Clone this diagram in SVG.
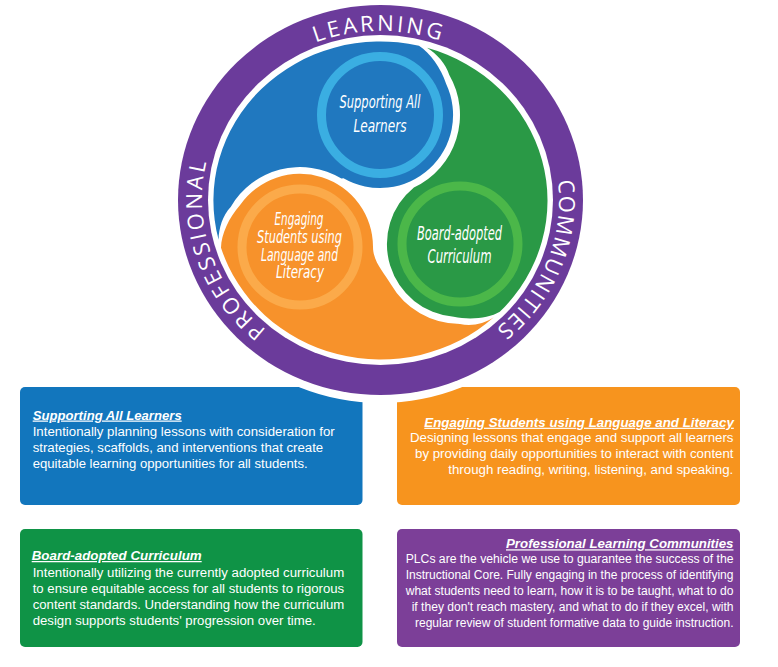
<svg xmlns="http://www.w3.org/2000/svg" xmlns:xlink="http://www.w3.org/1999/xlink" width="778" height="667" viewBox="0 0 778 667">
<style>
.bt{font-family:"Liberation Sans",Arial,sans-serif;font-size:12.5px;fill:#fff}
.tt{font-weight:bold;font-style:italic;text-decoration:underline}
.ring{font-family:"Open Sans","DejaVu Sans",sans-serif;font-size:22px;font-weight:500;fill:#fff}
.head{font-family:"DejaVu Sans Condensed","Liberation Sans Narrow","DejaVu Sans",sans-serif;font-style:italic;fill:#fff;text-anchor:middle}
.hring{fill:none;stroke-width:9}
</style>
<defs>
<path id="ringPath" d="M 380.5 369 A 178.5 169 0 1 1 380.5 31 A 178.5 169 0 1 1 380.5 369"/>
</defs>
<rect width="778" height="667" fill="#fff"/>
<g id="box-supporting">
<rect x="20" y="387" width="342.5" height="118" rx="5" fill="#1276bd"/>
<text class="bt tt" x="32.7" y="419.5" textLength="149" lengthAdjust="spacingAndGlyphs">Supporting All Learners</text>
<text class="bt" x="32.7" y="435.7" textLength="302" lengthAdjust="spacingAndGlyphs">Intentionally planning lessons with consideration for</text>
<text class="bt" x="32.7" y="451.7" textLength="290.5" lengthAdjust="spacingAndGlyphs">strategies, scaffolds, and interventions that create</text>
<text class="bt" x="32.7" y="467.7" textLength="275" lengthAdjust="spacingAndGlyphs">equitable learning opportunities for all students.</text>
</g>
<g id="box-engaging">
<rect x="397" y="387" width="343" height="118" rx="5" fill="#f7941e"/>
<text class="bt tt" x="424.3" y="426.7" textLength="309.5" lengthAdjust="spacingAndGlyphs">Engaging Students using Language and Literacy</text>
<text class="bt" x="410" y="442.3" textLength="323.5" lengthAdjust="spacingAndGlyphs">Designing lessons that engage and support all learners</text>
<text class="bt" x="415" y="458.3" textLength="318.5" lengthAdjust="spacingAndGlyphs">by providing daily opportunities to interact with content</text>
<text class="bt" x="448.3" y="474.3" textLength="285" lengthAdjust="spacingAndGlyphs">through reading, writing, listening, and speaking.</text>
</g>
<g id="box-curriculum">
<rect x="20" y="529" width="342.5" height="118" rx="5" fill="#0f9346"/>
<text class="bt tt" x="31.7" y="560" textLength="170" lengthAdjust="spacingAndGlyphs">Board-adopted Curriculum</text>
<text class="bt" x="32.7" y="576.7" textLength="311.5" lengthAdjust="spacingAndGlyphs">Intentionally utilizing the currently adopted curriculum</text>
<text class="bt" x="32.7" y="592.7" textLength="311.5" lengthAdjust="spacingAndGlyphs">to ensure equitable access for all students to rigorous</text>
<text class="bt" x="32.7" y="608.7" textLength="311.5" lengthAdjust="spacingAndGlyphs">content standards. Understanding how the curriculum</text>
<text class="bt" x="32.7" y="624.7" textLength="283" lengthAdjust="spacingAndGlyphs">design supports students' progression over time.</text>
</g>
<g id="box-plc">
<rect x="397" y="529" width="343" height="118" rx="5" fill="#7c3f98"/>
<text class="bt tt" x="506" y="548.3" textLength="227.5" lengthAdjust="spacingAndGlyphs">Professional Learning Communities</text>
<text class="bt" x="405.7" y="563.3" textLength="327.8" lengthAdjust="spacingAndGlyphs">PLCs are the vehicle we use to guarantee the success of the</text>
<text class="bt" x="405.7" y="579.3" textLength="327.8" lengthAdjust="spacingAndGlyphs">Instructional Core. Fully engaging in the process of identifying</text>
<text class="bt" x="405.7" y="595.3" textLength="327.8" lengthAdjust="spacingAndGlyphs">what students need to learn, how it is to be taught, what to do</text>
<text class="bt" x="411.7" y="611.3" textLength="321.8" lengthAdjust="spacingAndGlyphs">if they don't reach mastery, and what to do if they excel, with</text>
<text class="bt" x="415" y="627.3" textLength="318.5" lengthAdjust="spacingAndGlyphs">regular review of student formative data to guide instruction.</text>
</g>
<g id="plc-ring">
<ellipse cx="380.5" cy="200" rx="210.5" ry="203" fill="#fff"/>
<ellipse cx="380.5" cy="200" rx="202.5" ry="195" fill="#6b3b9b"/>
<ellipse cx="380.5" cy="200" rx="172.5" ry="165" fill="#fff"/>
<text class="ring"><textPath xlink:href="#ringPath" href="#ringPath" startOffset="543" text-anchor="middle" textLength="127" lengthAdjust="spacing">LEARNING</textPath></text>
<text class="ring"><textPath xlink:href="#ringPath" href="#ringPath" startOffset="217" text-anchor="middle" textLength="188" lengthAdjust="spacing">PROFESSIONAL</textPath></text>
<text class="ring"><textPath xlink:href="#ringPath" href="#ringPath" startOffset="883" text-anchor="middle" textLength="168" lengthAdjust="spacing">COMMUNITIES</textPath></text>
</g>
<g id="supporting">
<path d="M 218.6 239.8 A 167 159 0 0 1 419 45.8 C 430 53 441 68 446.2 84.1 A 73 73 0 0 1 343.5 178.2 L 341.4 178.6 A 80 80 0 0 0 230.7 207 C 222.8 215.3 218.7 228.1 218.6 239.8 Z" fill="#2078bf"/>
<circle class="hring" cx="380" cy="115" r="58.5" stroke="#3aaee2"/>
<text class="head" x="380" y="108" font-size="18.5" textLength="81" lengthAdjust="spacingAndGlyphs">Supporting All</text>
<text class="head" x="380" y="131.5" font-size="18.5" textLength="53" lengthAdjust="spacingAndGlyphs">Learners</text>
</g>
<g id="curriculum">
<path d="M 427 47.8 A 167 159 0 0 1 499.8 311.8 C 488.7 318.3 470.2 320.3 453.7 316.8 A 73 73 0 0 1 413.9 187.4 A 80 80 0 0 0 449.3 75 C 446 64 437 54 427 47.8 Z" fill="#2a9946"/>
<circle class="hring" cx="460" cy="244" r="58" stroke="#4bb749"/>
<text class="head" x="459.5" y="240" font-size="19" textLength="85" lengthAdjust="spacingAndGlyphs">Board-adopted</text>
<text class="head" x="459.5" y="262.7" font-size="19" textLength="64" lengthAdjust="spacingAndGlyphs">Curriculum</text>
</g>
<g id="engaging">
<path d="M 493.8 317.3 A 167 159 0 0 1 221 247.7 C 221.3 234.7 228.8 217.7 240.1 205.1 A 73 73 0 0 1 373 247 C 373 262 384.7 273.6 390.7 284 A 80 80 0 0 0 460 324 C 471.2 326.7 484.3 323.9 493.8 317.3 Z" fill="#f7922b"/>
<circle class="hring" cx="300" cy="247" r="58" stroke="#fbaa4a"/>
<text class="head" x="299" y="225" font-size="17" textLength="49" lengthAdjust="spacingAndGlyphs">Engaging</text>
<text class="head" x="299.5" y="243.3" font-size="17" textLength="85" lengthAdjust="spacingAndGlyphs">Students using</text>
<text class="head" x="299.5" y="261" font-size="17" textLength="77" lengthAdjust="spacingAndGlyphs">Language and</text>
<text class="head" x="300" y="278.3" font-size="17" textLength="48" lengthAdjust="spacingAndGlyphs">Literacy</text>
</g>
<g id="connectors"></g>
</svg>
